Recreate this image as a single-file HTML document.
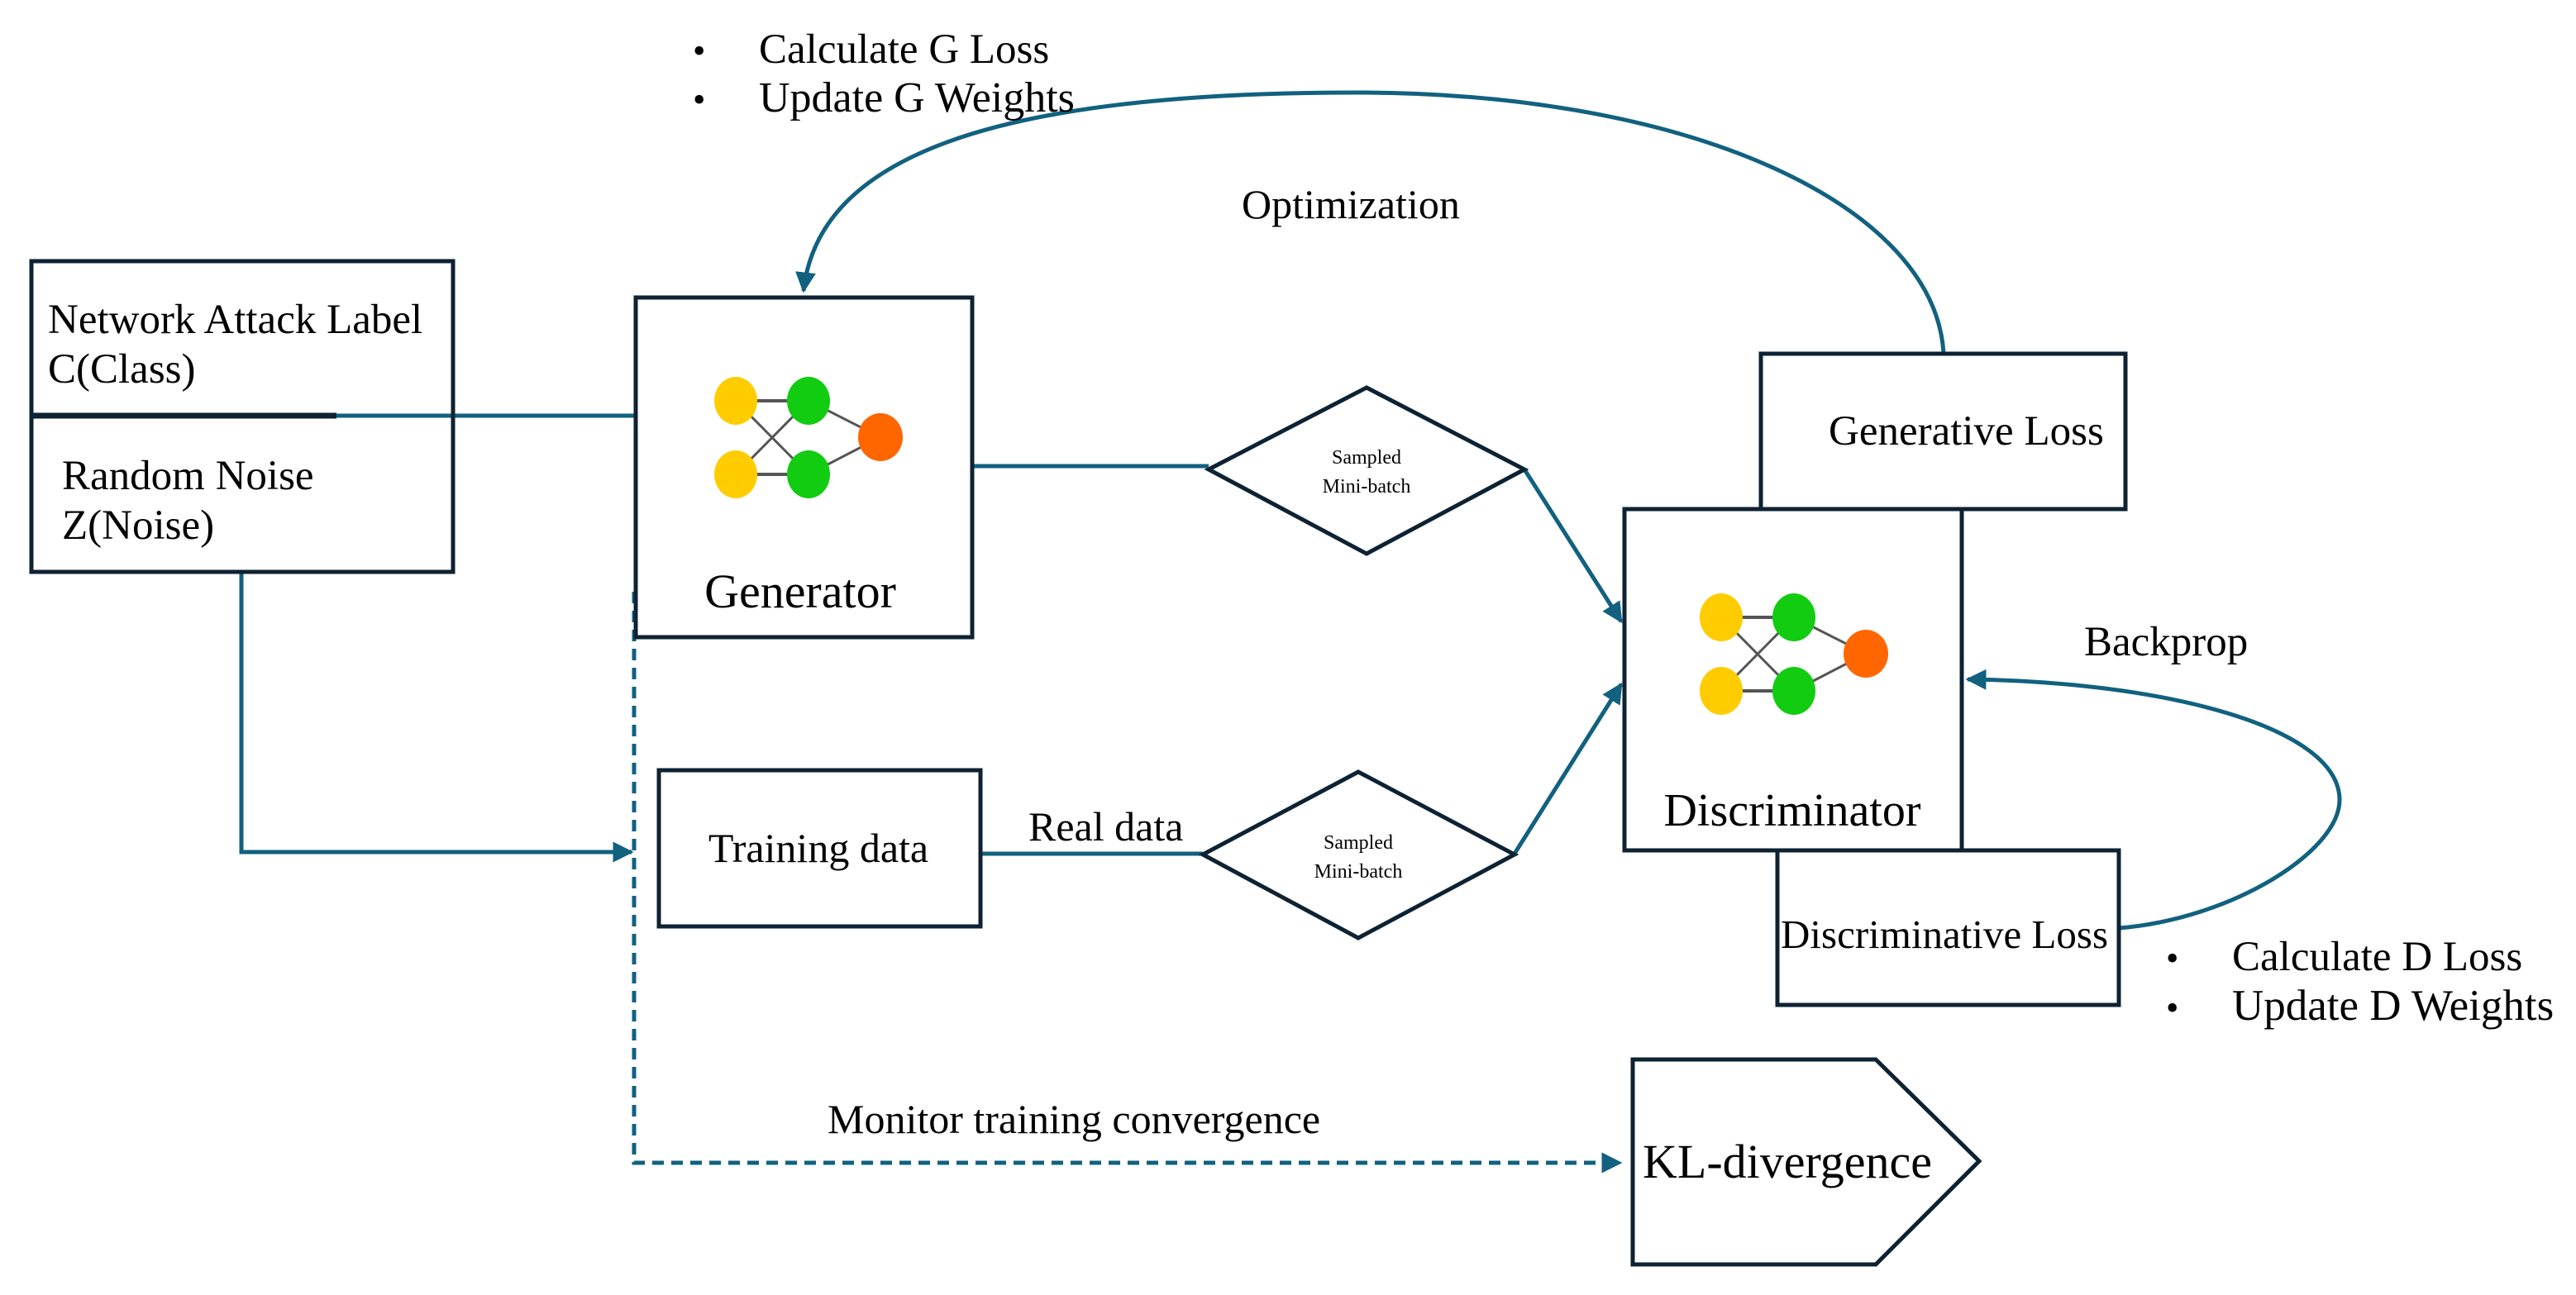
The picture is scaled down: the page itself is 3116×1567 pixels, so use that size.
<!DOCTYPE html>
<html><head><meta charset="utf-8"><style>
html,body{margin:0;padding:0;background:#fff;}
svg{display:block;}
text{font-family:"Liberation Serif",serif;fill:#000;}
</style></head><body>
<svg width="3116" height="1567" viewBox="0 0 3116 1567" xmlns="http://www.w3.org/2000/svg">
<defs>
<marker id="ah" viewBox="0 0 10 10" refX="9" refY="5" markerWidth="5" markerHeight="5" orient="auto" markerUnits="strokeWidth"><path d="M0,0 L10,5 L0,10 Z" fill="#11617f"/></marker>
<g id="nn">
<line x1="0" y1="0" x2="88" y2="0" stroke="#555" stroke-width="4"/>
<line x1="0" y1="89" x2="88" y2="89" stroke="#555" stroke-width="4"/>
<line x1="0" y1="0" x2="88" y2="89" stroke="#555" stroke-width="3"/>
<line x1="0" y1="89" x2="88" y2="0" stroke="#555" stroke-width="3"/>
<line x1="88" y1="0" x2="175" y2="44" stroke="#555" stroke-width="3"/>
<line x1="88" y1="89" x2="175" y2="44" stroke="#555" stroke-width="3"/>
<ellipse cx="0" cy="0" rx="26" ry="29" fill="#ffcc00"/>
<ellipse cx="0" cy="89" rx="26" ry="29" fill="#ffcc00"/>
<ellipse cx="88" cy="0" rx="26" ry="29" fill="#11cc11"/>
<ellipse cx="88" cy="89" rx="26" ry="29" fill="#11cc11"/>
<ellipse cx="175" cy="44" rx="27" ry="29" fill="#ff6600"/>
</g>
</defs>
<g fill="none" stroke="#11617f" stroke-width="5">
<path d="M2351,427 C2340,250 2050,112 1640,112 C1200,112 990,190 972,352" marker-end="url(#ah)"/>
<line x1="407" y1="503" x2="769" y2="503"/>
<line x1="1176" y1="564" x2="1462" y2="564"/>
<line x1="1844" y1="568" x2="1961" y2="752" marker-end="url(#ah)"/>
<line x1="1832" y1="1033" x2="1961" y2="828" marker-end="url(#ah)"/>
<line x1="1186" y1="1033" x2="1455" y2="1033"/>
<polyline points="292,692 292,1031 764,1031" marker-end="url(#ah)"/>
<polyline points="767,716 767,1407 1960,1407" stroke-dasharray="14,9" marker-end="url(#ah)"/>
<path d="M2563,1123 C2700,1112 2830,1030 2830,968 C2830,880 2620,825 2380,822" marker-end="url(#ah)"/>
</g>
<g fill="none" stroke="#0d2233" stroke-width="5">
<rect x="38" y="316" width="510" height="376"/>
<line x1="38" y1="503" x2="407" y2="503" stroke-width="7"/>
<rect x="769" y="360" width="407" height="411"/>
<rect x="797" y="932" width="389" height="189"/>
<polygon points="1462,568 1653,469 1844,568 1653,670"/>
<polygon points="1455,1034 1643,934 1832,1034 1643,1135"/>
<rect x="2130" y="428" width="441" height="188"/>
<rect x="1965" y="616" width="408" height="413" fill="#fff"/>
<rect x="2150" y="1029" width="413" height="187" fill="#fff"/>
<polygon points="1975,1282 2269,1282 2394,1405 2269,1530 1975,1530"/>
</g>
<use href="#nn" x="890" y="485"/>
<use href="#nn" x="2082" y="747"/>
<text x="58" y="403" font-size="51">Network Attack Label</text>
<text x="58" y="463" font-size="51">C(Class)</text>
<text x="75" y="592" font-size="51">Random Noise</text>
<text x="75" y="652" font-size="51">Z(Noise)</text>
<text x="968" y="735" font-size="58" text-anchor="middle">Generator</text>
<text x="990" y="1043" font-size="50" text-anchor="middle">Training data</text>
<text x="1244" y="1017" font-size="50">Real data</text>
<text x="1653" y="561" font-size="24" text-anchor="middle">Sampled</text>
<text x="1653" y="596" font-size="24" text-anchor="middle">Mini-batch</text>
<text x="1643" y="1027" font-size="24" text-anchor="middle">Sampled</text>
<text x="1643" y="1062" font-size="24" text-anchor="middle">Mini-batch</text>
<text x="2168" y="999" font-size="56" text-anchor="middle">Discriminator</text>
<text x="2212" y="538" font-size="51">Generative Loss</text>
<text x="2154" y="1147" font-size="49">Discriminative Loss</text>
<text x="2521" y="793" font-size="51">Backprop</text>
<text x="1502" y="264" font-size="50">Optimization</text>
<text x="1001" y="1371" font-size="50">Monitor training convergence</text>
<text x="1987" y="1425" font-size="58">KL-divergence</text>
<text x="838" y="76" font-size="44">•</text>
<text x="918" y="76" font-size="51">Calculate G Loss</text>
<text x="838" y="135" font-size="44">•</text>
<text x="918" y="135" font-size="52">Update G Weights</text>
<text x="2620" y="1174" font-size="44">•</text>
<text x="2700" y="1174" font-size="51">Calculate D Loss</text>
<text x="2620" y="1234" font-size="44">•</text>
<text x="2700" y="1234" font-size="53">Update D Weights</text>
</svg>
</body></html>
